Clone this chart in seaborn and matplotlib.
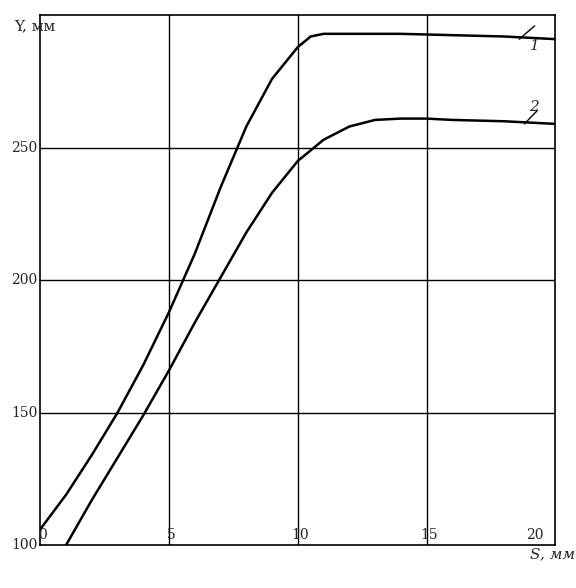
import matplotlib
matplotlib.use('Agg')
import matplotlib.pyplot as plt
import seaborn as sns
import pandas as pd

# curve 1
s1 = [0, 1, 2, 3, 4, 5, 6, 7, 8, 9, 10, 10.5, 11, 12, 14, 16, 18, 20]
y1 = [106, 119, 134, 150, 168, 188, 210, 235, 258, 276, 288, 292, 293, 293, 293, 292.5, 292, 291]
# curve 2
s2 = [1, 2, 3, 4, 5, 6, 7, 8, 9, 10, 11, 12, 13, 14, 15, 16, 18, 20]
y2 = [100, 117, 133, 149, 166, 184, 201, 218, 233, 245, 253, 258, 260.5, 261, 261, 260.5, 260, 259]

xticks = [0, 5, 10, 15]
yticks = [100, 150, 200, 250]

df = pd.concat([
    pd.DataFrame({'S': s1, 'Y': y1, 'c': '1'}),
    pd.DataFrame({'S': s2, 'Y': y2, 'c': '2'}),
])

sns.set_style('white')
plt.rcParams['font.family'] = ['DejaVu Serif']
fig = plt.figure(figsize=(5.76, 5.88), dpi=100)
ax = fig.add_axes([0.07, 0.073, 0.894, 0.901])
sns.lineplot(data=df, x='S', y='Y', hue='c', palette=['black', 'black'],
             linewidth=1.8, legend=False, ax=ax)
ax.set_xlim(0, 20)
ax.set_ylim(100, 300)
for x in [5, 10, 15]:
    ax.axvline(x, color='black', lw=1)
for y in [150, 200, 250]:
    ax.axhline(y, color='black', lw=1)
for sp in ax.spines.values():
    sp.set_color('black')
    sp.set_linewidth(1.2)
ax.set_xticks([])
ax.set_yticks([])
ax.set_xlabel('')
ax.set_ylabel('')
for t in xticks:
    ax.text(t + 0.1, 101, str(t), fontsize=10, ha='center', va='bottom')
ax.text(19.2, 101, '20', fontsize=10, ha='center', va='bottom')
for t in yticks:
    ax.text(-0.1, t, str(t), fontsize=10, ha='right', va='center', transform=ax.transData)
ax.text(-1.0, 296, 'Y, мм', fontsize=11, ha='left', va='center')
ax.text(19.0, 99, 'S, мм', fontsize=11, ha='left', va='top', style='italic')
ax.plot([18.6, 19.2], [291, 296], color='black', lw=1)
ax.text(19.0, 287, '1', fontsize=11, style='italic')
ax.plot([18.8, 19.3], [259, 264], color='black', lw=1)
ax.text(19.0, 264, '2', fontsize=11, style='italic')
fig.savefig('out.png', dpi=100)
